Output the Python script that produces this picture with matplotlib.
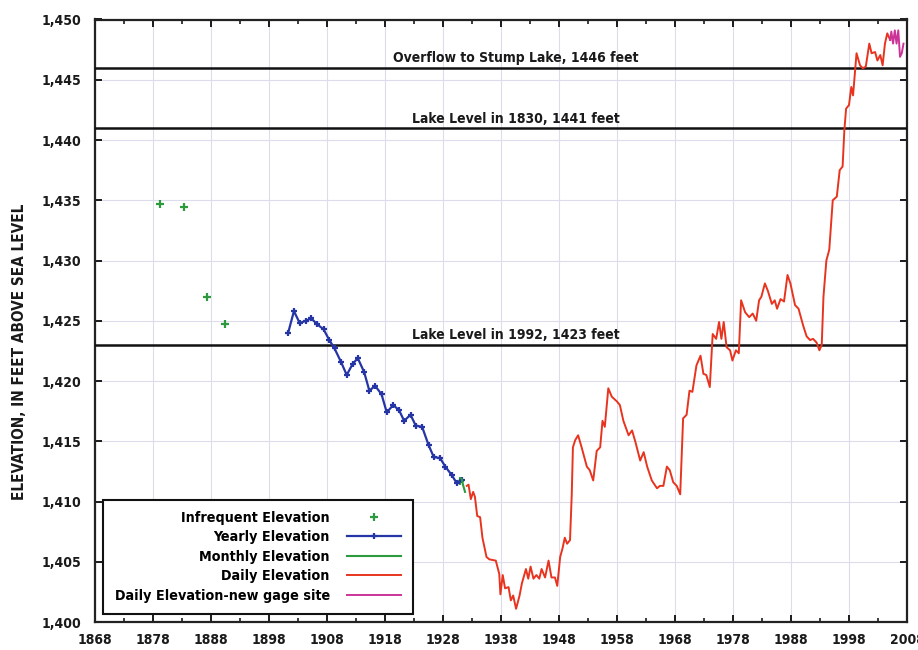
"""
Devils Lake elevation record, 1868-2008.
"""

import matplotlib.pyplot as plt
from matplotlib.ticker import FuncFormatter

plt.rcParams['font.family'] = ['DejaVu Sans']
plt.rcParams['font.stretch'] = 'condensed'
plt.rcParams['font.weight'] = 'bold'
plt.rcParams['axes.labelweight'] = 'bold'

# infrequent observations
infreq_year = [1879.2, 1883.3, 1887.3, 1890.4, 1930.9]
infreq_elev = [1434.7, 1434.4, 1427.0, 1424.7, 1411.7]

# yearly elevations
yearly_year = [1901.3, 1902.3, 1903.3, 1904.3, 1905.3, 1906.3, 1907.4, 1908.4,
               1909.3, 1910.4, 1911.4, 1912.4, 1913.3, 1914.4, 1915.3, 1916.3,
               1917.4, 1918.3, 1919.4, 1920.4, 1921.3, 1922.4, 1923.3, 1924.4,
               1925.5, 1926.4, 1927.5, 1928.4, 1929.5, 1930.4, 1931.2]
yearly_elev = [1424.0, 1425.8, 1424.8, 1425.0, 1425.2, 1424.7, 1424.3, 1423.4,
               1422.7, 1421.6, 1420.5, 1421.4, 1421.9, 1420.75, 1419.2, 1419.6,
               1418.9, 1417.4, 1418.0, 1417.6, 1416.7, 1417.2, 1416.3, 1416.2,
               1414.7, 1413.7, 1413.6, 1412.9, 1412.2, 1411.5, 1411.75]

# monthly elevations
monthly_year = [1931.2, 1931.5, 1931.8]
monthly_elev = [1411.9, 1411.3, 1410.8]

# daily elevations (old gage)
daily_year = [1932.1, 1932.4, 1932.8, 1933.2, 1933.5, 1933.9, 1934.4, 1934.8,
              1935.5, 1936.0, 1937.1, 1937.7, 1937.9, 1938.3, 1938.7, 1939.3,
              1939.7, 1940.1, 1940.6, 1941.2, 1941.6, 1942.3, 1942.7, 1943.1,
              1943.6, 1944.1, 1944.6, 1945.0, 1945.6, 1946.2, 1946.7, 1947.3,
              1947.7, 1948.2, 1948.6, 1949.0, 1949.4, 1949.9, 1950.2, 1950.4,
              1950.8, 1951.3, 1951.9, 1952.8, 1953.3, 1953.9, 1954.5, 1955.1,
              1955.5, 1955.9, 1956.5, 1957.1, 1958.0, 1958.5, 1959.1, 1960.0,
              1960.6, 1961.2, 1962.0, 1962.6, 1963.2, 1964.0, 1964.9, 1965.4,
              1966.0, 1966.6, 1967.1, 1967.7, 1968.3, 1968.9, 1969.4, 1970.0,
              1970.5, 1971.0, 1971.7, 1972.4, 1972.9, 1973.4, 1974.0, 1974.5,
              1975.1, 1975.6, 1976.0, 1976.4, 1976.9, 1977.5, 1977.9, 1978.5,
              1979.0, 1979.4, 1980.1, 1980.8, 1981.4, 1982.0, 1982.5, 1982.9,
              1983.5, 1984.0, 1984.7, 1985.2, 1985.6, 1986.2, 1986.8, 1987.4,
              1987.9, 1988.7, 1989.3, 1990.1, 1990.7, 1991.3, 1991.8, 1992.4,
              1992.9, 1993.3, 1993.6, 1994.1, 1994.6, 1995.2, 1995.9, 1996.4,
              1996.9, 1997.2, 1997.5, 1998.0, 1998.4, 1998.7, 1999.3, 1999.9,
              2000.4, 2000.9, 2001.5, 2001.9, 2002.5, 2002.9, 2003.4, 2003.8,
              2004.2, 2004.6, 2005.1]
daily_elev = [1411.3, 1411.4, 1410.2, 1410.8, 1410.4, 1408.8, 1408.7, 1407.0,
              1405.4, 1405.2, 1405.1, 1404.0, 1402.3, 1403.9, 1402.8, 1402.9,
              1401.8, 1402.2, 1401.1, 1402.2, 1403.2, 1404.4, 1403.6, 1404.6,
              1403.6, 1403.9, 1403.6, 1404.4, 1403.7, 1405.1, 1403.7, 1403.7,
              1403.0, 1405.4, 1406.1, 1407.0, 1406.5, 1406.8, 1410.6, 1414.5,
              1415.1, 1415.5, 1414.5, 1412.9, 1412.6, 1411.75, 1414.2, 1414.5,
              1416.7, 1416.2, 1419.4, 1418.7, 1418.3, 1418.0, 1416.7, 1415.5,
              1415.9, 1414.9, 1413.4, 1414.1, 1412.9, 1411.75, 1411.1, 1411.3,
              1411.3, 1412.9, 1412.6, 1411.6, 1411.3, 1410.6, 1416.9, 1417.2,
              1419.2, 1419.1, 1421.3, 1422.1, 1420.6, 1420.5, 1419.5, 1423.9,
              1423.5, 1424.9, 1423.5, 1424.9, 1422.8, 1422.55, 1421.7, 1422.55,
              1422.3, 1426.7, 1425.7, 1425.3, 1425.6, 1425.0, 1426.7, 1427.0,
              1428.1, 1427.5, 1426.4, 1426.7, 1426.0, 1426.8, 1426.6, 1428.8,
              1428.1, 1426.3, 1426.0, 1424.6, 1423.7, 1423.4, 1423.5, 1423.2,
              1422.55, 1423.0, 1427.0, 1430.0, 1430.9, 1435.0, 1435.3, 1437.5,
              1437.8, 1440.8, 1442.6, 1442.9, 1444.4, 1443.7, 1447.2, 1446.2,
              1445.95, 1446.1, 1448.0, 1447.2, 1447.3, 1446.6, 1447.05, 1446.2,
              1448.0, 1448.85, 1448.3]

# daily elevations (new gage site)
new_year = [2005.1, 2005.3, 2005.6, 2005.9, 2006.2, 2006.5, 2006.8, 2007.1, 2007.4]
new_elev = [1448.3, 1449.0, 1448.0, 1449.1, 1448.0, 1449.1, 1446.9, 1447.2, 1448.0]

# reference levels
ref_elev = [1446, 1441, 1423]
ref_text = ['Overflow to Stump Lake, 1446 feet',
            'Lake Level in 1830, 1441 feet',
            'Lake Level in 1992, 1423 feet']

# axis ticks
x_major = list(range(1868, 2009, 10))
x_minor = list(range(1873, 2008, 10))
y_major = list(range(1400, 1451, 5))

fig = plt.figure(figsize=(9.18, 6.5), dpi=100)
ax = fig.add_axes([0.1035, 0.043, 0.8845, 0.927])

ax.grid(True, which='major', color='#dcdcec', lw=0.8)
ax.set_axisbelow(True)

for e, t in zip(ref_elev, ref_text):
    ax.axhline(e, color='#111111', lw=1.8, zorder=3)
    ax.text(1940.6, e + 0.2, t, ha='center', va='bottom', fontsize=10,
            color='#1a1a1a', zorder=4)

ax.plot(infreq_year, infreq_elev, ls='none', marker='+', ms=6, mew=1.6,
        color='#2e9a3e', label='Infrequent Elevation', zorder=5)
ax.plot(yearly_year, yearly_elev, color='#2535a5', lw=1.6, marker='+', ms=5,
        mew=1.6, label='Yearly Elevation', zorder=5)
ax.plot(monthly_year, monthly_elev, color='#2e9a3e', lw=1.5,
        label='Monthly Elevation', zorder=5)
ax.plot(daily_year, daily_elev, color='#e8341f', lw=1.4,
        label='Daily Elevation', zorder=5)
ax.plot(new_year, new_elev, color='#cc3399', lw=1.4,
        label='Daily Elevation-new gage site', zorder=5)

ax.set_xlim(1868, 2008)
ax.set_ylim(1400, 1450)
ax.set_xticks(x_major)
ax.set_xticks(x_minor, minor=True)
ax.set_yticks(y_major)
ax.yaxis.set_major_formatter(FuncFormatter(lambda v, p: f'{v:,.0f}'))
ax.tick_params(which='both', direction='in', top=True, right=True,
               labelsize=10, colors='#1a1a1a')
ax.tick_params(which='major', length=5, width=1.4)
ax.tick_params(which='minor', length=3, width=1.2)
ax.tick_params(axis='y', pad=10)
ax.tick_params(axis='x', pad=8)
for s in ax.spines.values():
    s.set_linewidth(1.6)
    s.set_color('#222222')

ax.set_ylabel('ELEVATION, IN FEET ABOVE SEA LEVEL', fontsize=11, color='#1a1a1a')
ax.yaxis.set_label_coords(-0.084, 0.448)

leg = ax.legend(loc='lower left', bbox_to_anchor=(0.01, 0.013), markerfirst=False,
                fancybox=False, edgecolor='#111111', framealpha=1, fontsize=10.3,
                handlelength=3.8, handletextpad=1.2, labelspacing=0.38,
                borderpad=0.8, borderaxespad=0)
leg.get_frame().set_linewidth(1.5)

fig.savefig('out.png', dpi=100)
